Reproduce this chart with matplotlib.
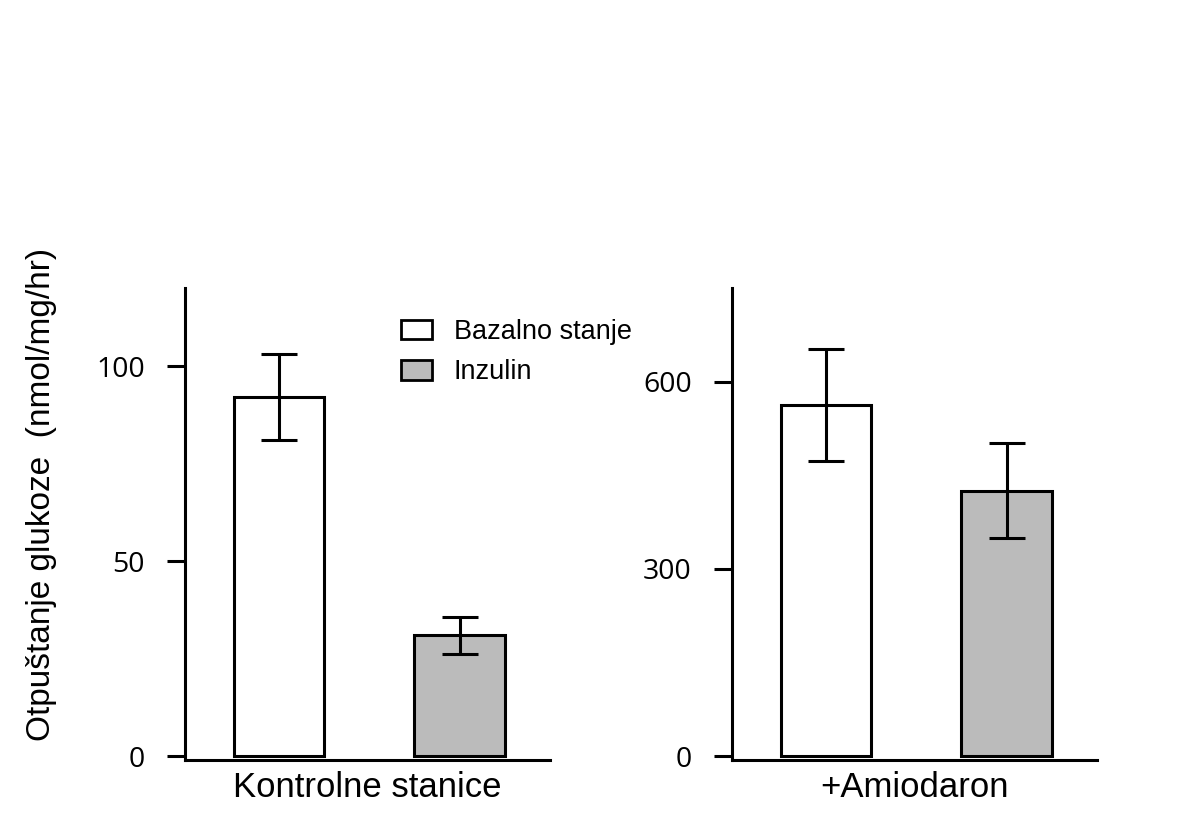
import numpy as np
import matplotlib
matplotlib.use('Agg')
import matplotlib.pyplot as plt
from matplotlib.patches import Patch

# data
groups = ['Kontrolne stanice', '+Amiodaron']
series = ['Bazalno stanje', 'Inzulin']
kontrola = [92, 31]
kontrola_err = [11, 4.7]
amiodaron = [563, 425]
amiodaron_err = [90, 76]
colors = ['white', '#bbbbbb']

plt.rcParams['font.family'] = ['Liberation Sans', 'DejaVu Sans']

fig = plt.figure(figsize=(11.86, 8.4), dpi=100)
ax1 = fig.add_axes([185/1186, 80/840, 365/1186, 472/840])
ax2 = fig.add_axes([732/1186, 80/840, 365/1186, 472/840])

def panel(ax, vals, errs, ylim, yticks, name):
    x = np.arange(len(vals))
    ax.bar(x, vals, width=0.5, color=colors, edgecolor='black', linewidth=2.2,
           yerr=errs, capsize=13, error_kw=dict(elinewidth=2.2, capthick=2.2, ecolor='black'))
    ax.set_xlim(-0.52, 1.5)
    ax.set_ylim(*ylim)
    ax.set_yticks(yticks)
    ax.set_xticks([])
    for s in ['top', 'right']:
        ax.spines[s].set_visible(False)
    for s in ['left', 'bottom']:
        ax.spines[s].set_linewidth(2.2)
    ax.tick_params(axis='y', length=13, width=2.2, pad=16, labelsize=20.5)
    for lab in ax.get_yticklabels():
        lab.set_fontfamily(['Open Sans', 'DejaVu Sans'])
    ax.set_xlabel(name, fontsize=25, labelpad=8)

panel(ax1, kontrola, kontrola_err, (-1, 120), [0, 50, 100], groups[0])
panel(ax2, amiodaron, amiodaron_err, (-6, 750), [0, 300, 600], groups[1])

handles = [Patch(facecolor=c, edgecolor='black', linewidth=2) for c in colors]
fig.legend(handles, series, loc='upper left', bbox_to_anchor=(401/1186, 1 - 319/840),
           frameon=False, fontsize=19.5, handlelength=1.15, handleheight=0.74,
           handletextpad=0.8, labelspacing=0.53, borderpad=0, borderaxespad=0)

fig.text(42/1186, 1 - 494/840, 'Otpuštanje glukoze  (nmol/mg/hr)', rotation=90,
         ha='center', va='center', fontsize=24)

fig.savefig('out.png', dpi=100)
